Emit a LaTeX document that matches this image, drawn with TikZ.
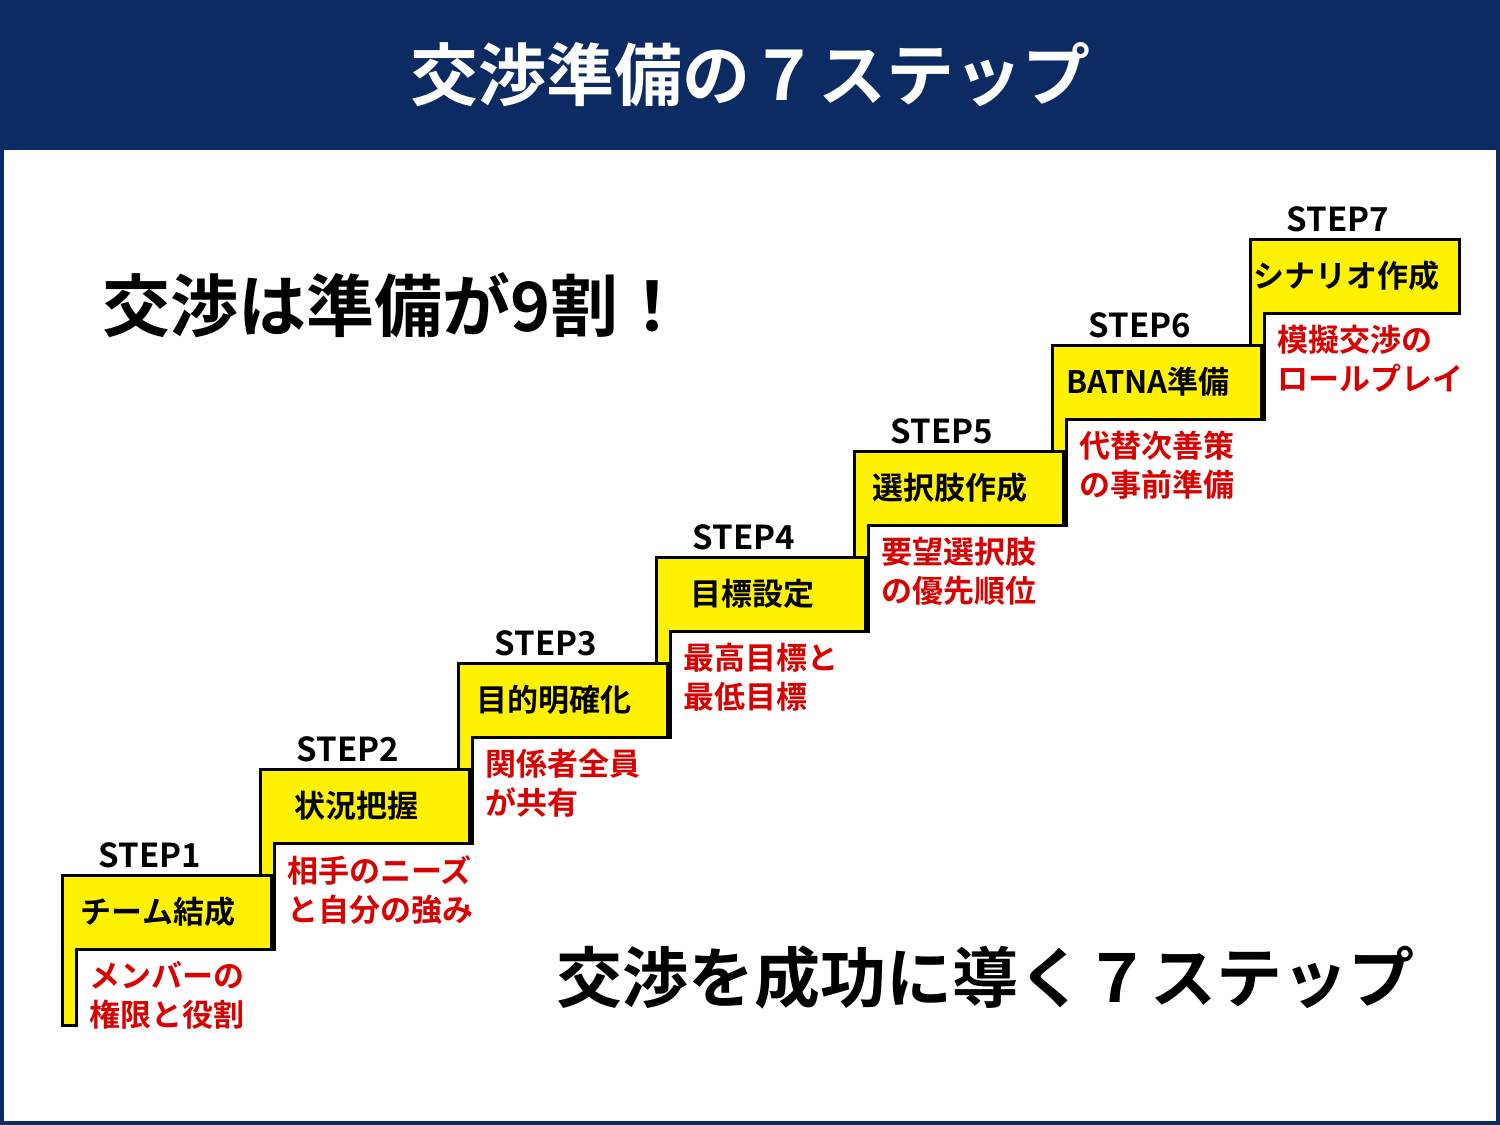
\documentclass[tikz,border=0pt]{standalone}
\usepackage{fontspec}
\setmainfont{Noto Sans CJK JP}[BoldFont={* Bold}]
\newfontfamily\jpb{Noto Sans CJK JP Bold}
\begin{document}
\begin{tikzpicture}[x=0.5pt,y=-0.5pt,
  stepshape/.style={fill=yellow,draw=black,line width=1.5pt},
  steplbl/.style={font=\jpb\fontsize{16.5}{18}\selectfont,anchor=center},
  boxtxt/.style={font=\jpb\fontsize{15.5}{17}\selectfont,anchor=center},
  redtxt/.style={font=\jpb\fontsize{15.5}{19.5}\selectfont,text=red!85!black,align=left,anchor=north west,inner sep=0pt}]
\definecolor{navy}{HTML}{0C2B63}
\fill[navy] (0,0) rectangle (1500,1125);
\fill[white] (4,150) rectangle (1496,1121);
\useasboundingbox (0,0) rectangle (1500,1125);
\node[text=white,font=\jpb\fontsize{34}{38}\selectfont] (title) at (750,75) {交渉準備の７ステップ};
\node[font=\jpb\fontsize{34}{38}\selectfont,anchor=west] (main) at (95,305) {交渉は準備が9割！};
\node[font=\jpb\fontsize{33}{36}\selectfont] (bottom) at (985,978) {交渉を成功に導く７ステップ};
\foreach \i/\bt/\rl/\ra in {
  7/シナリオ作成/模擬交渉の/ロールプレイ,
  6/BATNA準備/代替次善策/の事前準備,
  5/選択肢作成/要望選択肢/の優先順位,
  4/目標設定/最高目標と/最低目標,
  3/目的明確化/関係者全員/が共有,
  2/状況把握/相手のニーズ/と自分の強み,
  1/チーム結成/メンバーの/権限と役割}{
  \pgfmathsetmacro\L{62+198*(\i-1)}
  \pgfmathsetmacro\T{875-106*(\i-1)}
  \pgfmathsetmacro\R{\L+209}
  \pgfmathsetmacro\B{\T+74}
  \pgfmathsetmacro\E{\i==1 ? 1025 : \T+180}
  \pgfmathsetmacro\S{\L+14}
  \draw[stepshape] (\L,\T) -- (\R,\T) -- (\R,\B) -- (\S,\B) -- (\S,\E) -- (\L,\E) -- cycle;
  \node[boxtxt] (box\i) at ({\L+96},{\T+37}) {\bt};
  \node[steplbl] (step\i) at ({\L+88},{\T-20}) {STEP\i};
  \node[redtxt] (red\i) at ({\L+27},{\B+12}) {\rl\\\ra};
}
\end{tikzpicture}
\end{document}
